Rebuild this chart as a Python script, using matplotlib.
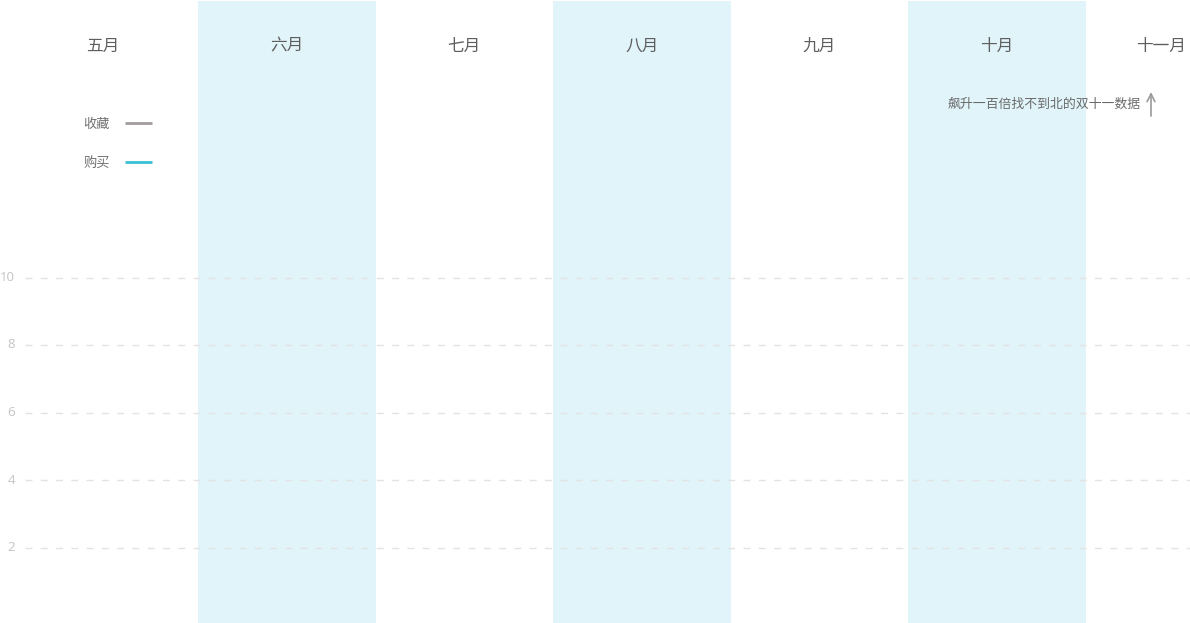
import matplotlib
matplotlib.use("Agg")
import matplotlib.pyplot as plt

plt.rcParams['font.family'] = ['Noto Sans CJK SC', 'DejaVu Sans']

months = ['五月', '六月', '七月', '八月', '九月', '十月', '十一月']
yticks = [2, 4, 6, 8, 10]
series_names = ['收藏', '购买']
series_colors = ['#a39c9c', '#3cc0d4']
fav_values = []   # no visible data in the reference
buy_values = []
annotation = '飙升一百倍找不到北的双十一数据'

W, H = 1190, 623
fig = plt.figure(figsize=(W / 100, H / 100), dpi=100)
ax = fig.add_axes([0, 0, 1, 1])

# pixel mapping: column i spans 20.5+177.5*i .. 198+177.5*i
x0_px, col_px = 20.5, 177.5
xmin = -0.5 - x0_px / col_px
xmax = xmin + W / col_px
# y: value v -> pixel 615 - 33.75*v
ymin = (615 - H) / 33.75
ymax = 615 / 33.75
ax.set_xlim(xmin, xmax)
ax.set_ylim(ymin, ymax)
ax.axis('off')

# alternating bands
for i in range(len(months)):
    if i % 2 == 1:
        ax.axvspan(i - 0.5, i + 0.5, ymin=0.0, ymax=1 - 1 / H, color='#e0f4fa', lw=0, zorder=0)

# dashed gridlines and tick labels
gx0 = xmin + 25 / col_px
for v in yticks:
    ax.plot([gx0, xmax], [v, v], color='#e3e3e3', lw=1, dashes=(5, 6), zorder=1)
    ax.text(xmin + 15 / col_px, v, str(v), ha='right', va='center',
            fontsize=9.5, color='#c4c4c4', family=['Open Sans', 'DejaVu Sans'])

# month labels
label_offsets = {0: -7 / col_px, 6: -13 / col_px}
for i, m in enumerate(months):
    ax.text(i + label_offsets.get(i, 0), ymax - 46 / 33.75, m, ha='center', va='center',
            fontsize=12, color='#5e5e5e', fontweight='medium')

# series (empty)
l1, = ax.plot(range(len(fav_values)), fav_values, color=series_colors[0], lw=2,
              solid_capstyle='butt', label=series_names[0])
l2, = ax.plot(range(len(buy_values)), buy_values, color=series_colors[1], lw=2,
              solid_capstyle='butt', label=series_names[1])

leg = ax.legend(handles=[l1, l2], loc='upper left', bbox_to_anchor=(83 / W, 1 - 118 / H),
                markerfirst=False, frameon=False, fontsize=9.5, handlelength=2.05,
                handletextpad=1.2, labelspacing=1.97, borderaxespad=0, borderpad=0)
for t in leg.get_texts():
    t.set_color('#707070')

# annotation with arrow
ax.text(1141 / W, 1 - 104 / H, annotation, transform=ax.transAxes, ha='right', va='center',
        fontsize=9.3, color='#6a6a6a')
ax.annotate('', xy=(1151 / W, 1 - 92 / H), xytext=(1151 / W, 1 - 116 / H),
            xycoords='axes fraction', textcoords='axes fraction',
            arrowprops=dict(arrowstyle='->', color='#9a9a9a', lw=1.2,
                            shrinkA=0, shrinkB=0, mutation_scale=14))

fig.savefig('out.png', dpi=100, facecolor='white')
